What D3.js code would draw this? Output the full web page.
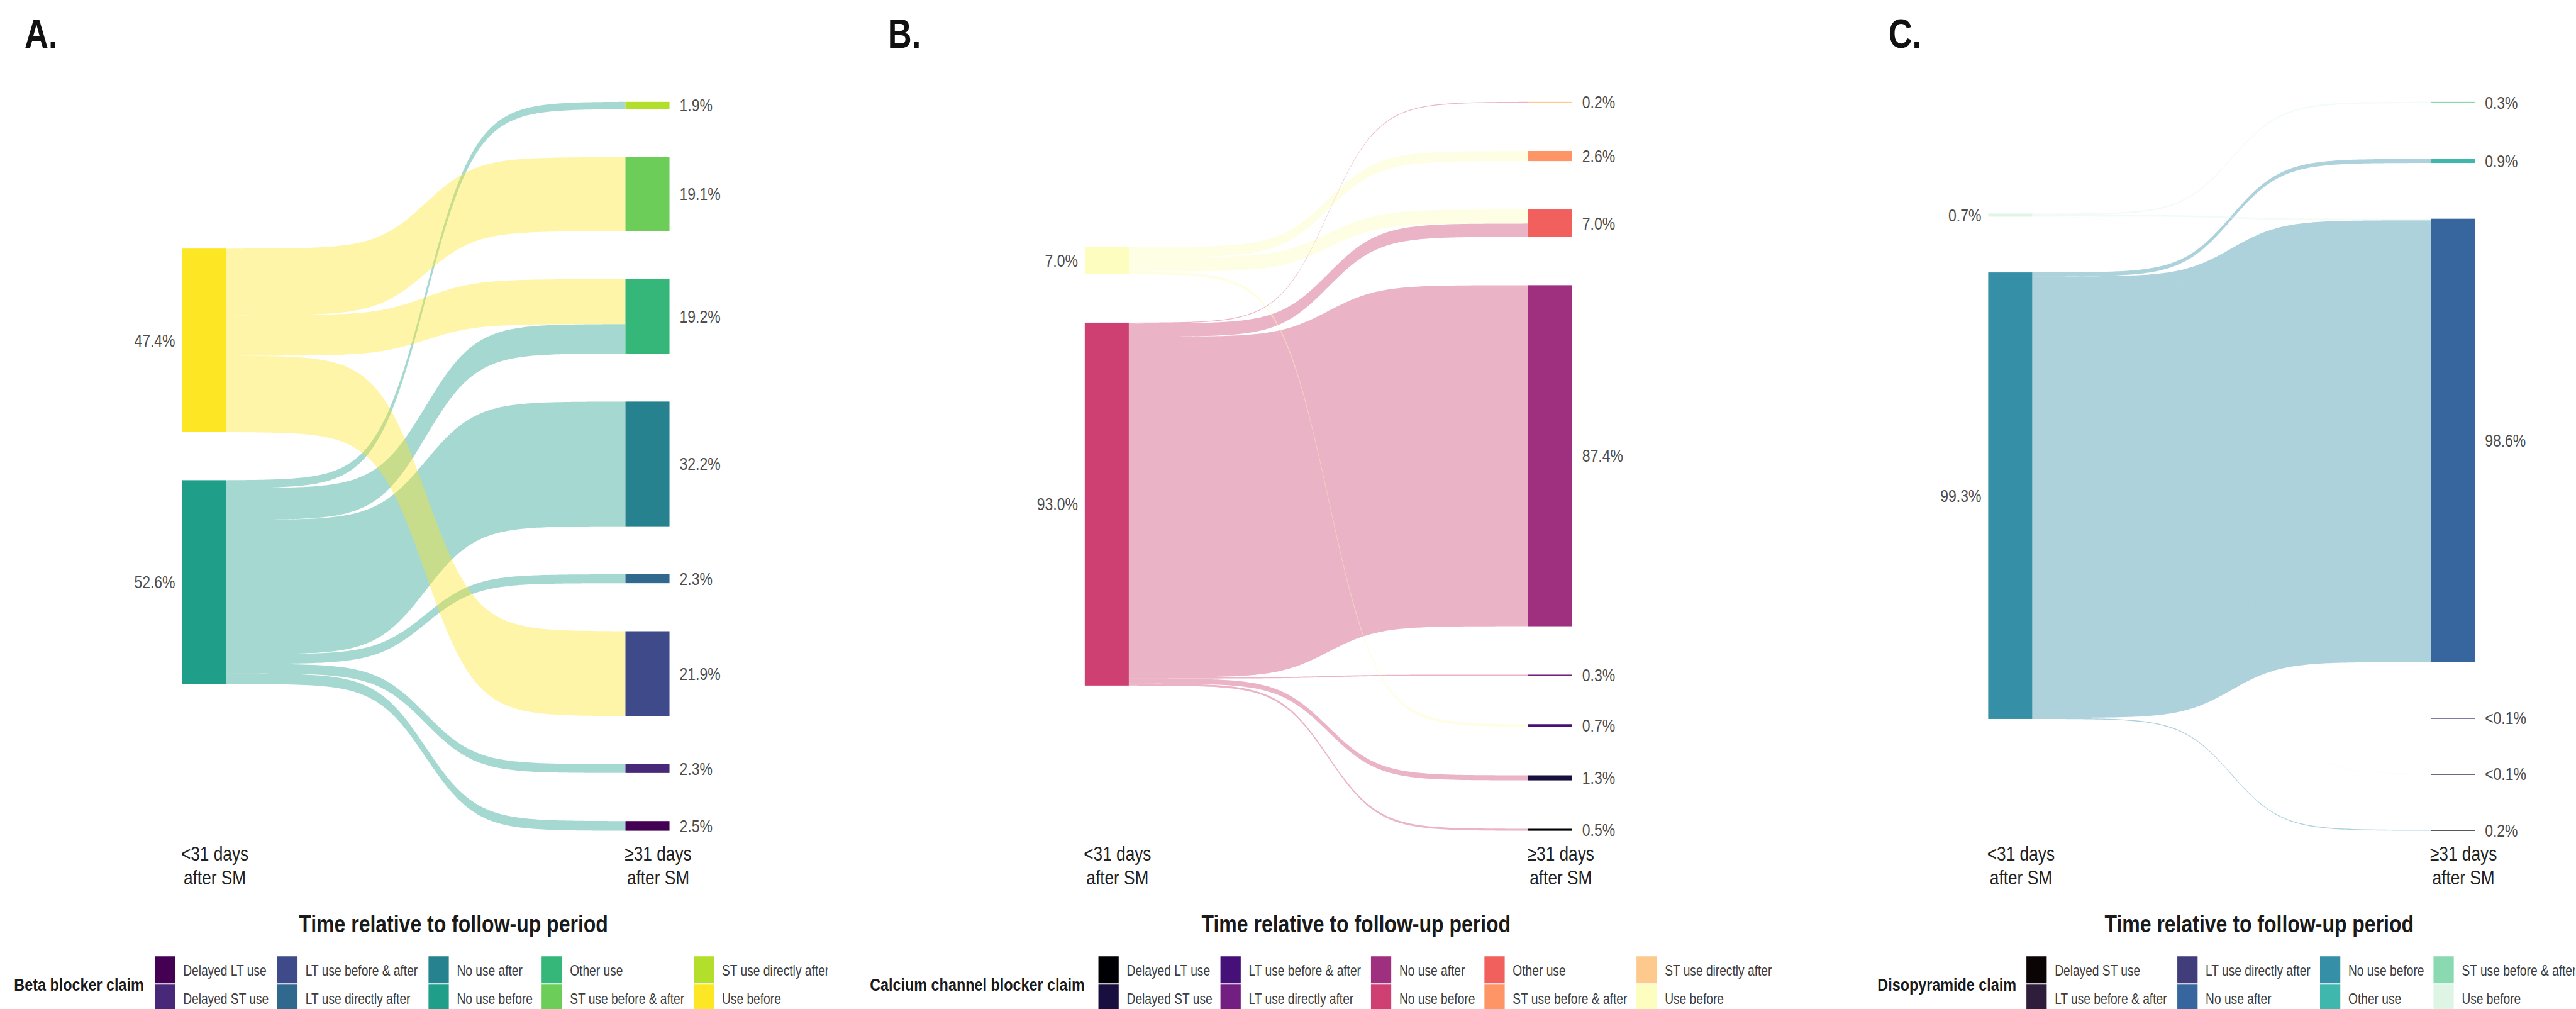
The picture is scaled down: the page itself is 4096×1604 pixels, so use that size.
<!DOCTYPE html>
<html>
<head>
<meta charset="utf-8">
<script src="https://cdn.jsdelivr.net/npm/d3@7"></script>
<style>
  html, body { margin: 0; padding: 0; background: #fff; }
  svg { display: block; }
  text { font-family: "Liberation Sans", Arial, sans-serif; }
</style>
</head>
<body>
<svg id="chart" width="4096" height="1604"></svg>
<script>
// ---- strata -------------------------------------------------------------
const beforeStrata = ["Use before", "No use before"];

const afterStrataAB = [
  "ST use directly after", "ST use before & after", "Other use", "No use after",
  "LT use directly after", "LT use before & after", "Delayed ST use", "Delayed LT use"
];
const afterStrataC = [
  "ST use before & after", "Other use", "No use after",
  "LT use directly after", "LT use before & after", "Delayed ST use"
];

const legendCategoriesAB = [
  "Delayed LT use", "Delayed ST use", "LT use before & after", "LT use directly after",
  "No use after", "No use before", "Other use", "ST use before & after",
  "ST use directly after", "Use before"
];
const legendCategoriesC = [
  "Delayed ST use", "LT use before & after", "LT use directly after", "No use after",
  "No use before", "Other use", "ST use before & after", "Use before"
];

// ---- percentages per stratum (before / after) ----------------------------
const betaBefore = [47.4, 52.6];
const betaAfter  = [1.9, 19.1, 19.2, 32.2, 2.3, 21.9, 2.3, 2.5];

const ccbBefore = [7.0, 93.0];
const ccbAfter  = [0.2, 2.6, 7.0, 87.4, 0.3, 0.7, 1.3, 0.5];

const disoBefore = [0.7, 99.3];
const disoAfter  = [0.3, 0.9, 98.6, 0.05, 0.05, 0.2];

// ---- transitions between strata -----------------------------------------
const betaFlows = [
  { from: "Use before",    to: "ST use before & after", value: 19.1 },
  { from: "Use before",    to: "Other use",             value: 11.6 },
  { from: "Use before",    to: "LT use before & after", value: 21.9 },
  { from: "No use before", to: "ST use directly after", value: 1.9 },
  { from: "No use before", to: "Other use",             value: 7.6 },
  { from: "No use before", to: "No use after",          value: 32.2 },
  { from: "No use before", to: "LT use directly after", value: 2.3 },
  { from: "No use before", to: "Delayed ST use",        value: 2.3 },
  { from: "No use before", to: "Delayed LT use",        value: 2.5 }
];

const ccbFlows = [
  { from: "Use before",    to: "ST use before & after", value: 2.6 },
  { from: "Use before",    to: "Other use",             value: 3.6 },
  { from: "Use before",    to: "LT use before & after", value: 0.7 },
  { from: "No use before", to: "ST use directly after", value: 0.2 },
  { from: "No use before", to: "Other use",             value: 3.4 },
  { from: "No use before", to: "No use after",          value: 87.4 },
  { from: "No use before", to: "LT use directly after", value: 0.3 },
  { from: "No use before", to: "Delayed ST use",        value: 1.3 },
  { from: "No use before", to: "Delayed LT use",        value: 0.5 }
];

const disoFlows = [
  { from: "Use before",    to: "ST use before & after", value: 0.3 },
  { from: "Use before",    to: "No use after",          value: 0.35 },
  { from: "Use before",    to: "LT use before & after", value: 0.05 },
  { from: "No use before", to: "Other use",             value: 0.9 },
  { from: "No use before", to: "No use after",          value: 98.25 },
  { from: "No use before", to: "LT use directly after", value: 0.05 },
  { from: "No use before", to: "Delayed ST use",        value: 0.2 }
];

const axisLabels = [["<31 days", "after SM"], ["\u226531 days", "after SM"]];
const axisTitle = "Time relative to follow-up period";

// ---- palettes -----------------------------------------------------------
const viridis10 = ["#440154","#482878","#3E4A89","#31688E","#26828E","#1F9E89","#35B779","#6DCD59","#B4DE2C","#FDE725"];
const magma10   = ["#000004","#180F3E","#451077","#721F81","#9F2F7F","#CD4071","#F1605D","#FD9567","#FEC98D","#FCFDBF"];
const mako8     = ["#0B0405","#2E1E3C","#413D7B","#37659E","#348FA7","#40B7AD","#8AD9B1","#DEF5E5"];

// ---- layout (design units, scaled by S) ---------------------------------
const S = 0.62;
const NODE_W = 113 * S;
const PLOT_TOP = 261 * S, PLOT_BOTTOM = 2130 * S;
const GAP = 12.4;        // space between strata, in percentage units
const SMOOTH = 8;        // steepness of the flow sigmoid
const FLOW_OPACITY = 0.4;
const NARROW = 0.82;     // horizontal condensing of all text

const panels = [
  { letter: "A.", letterX: 63, leftX: 467, rightX: 1604,
    before: betaBefore, after: betaAfter, afterNames: afterStrataAB, flows: betaFlows,
    categories: legendCategoriesAB, palette: viridis10,
    legendTitle: "Beta blocker claim", legendTitleX: 36,
    keyX: [397, 711, 1099, 1389, 1779], clipRight: 2122 },
  { letter: "B.", letterX: 2277, leftX: 2782, rightX: 3919,
    before: ccbBefore, after: ccbAfter, afterNames: afterStrataAB, flows: ccbFlows,
    categories: legendCategoriesAB, palette: magma10,
    legendTitle: "Calcium channel blocker claim", legendTitleX: 2231,
    keyX: [2817, 3130, 3516, 3807, 4197], clipRight: 4700 },
  { letter: "C.", letterX: 4843, leftX: 5099, rightX: 6234,
    before: disoBefore, after: disoAfter, afterNames: afterStrataC, flows: disoFlows,
    categories: legendCategoriesC, palette: mako8,
    legendTitle: "Disopyramide claim", legendTitleX: 4815,
    keyX: [5197, 5584, 5950, 6241], clipRight: 6604 }
];

const svg = d3.select("#chart");
const defs = svg.append("defs");
const fmtPct = v => v < 0.1 ? "<0.1%" : d3.format(".1f")(v) + "%";

const sigLo = 1 / (1 + Math.exp(SMOOTH)), sigHi = 1 / (1 + Math.exp(-SMOOTH));
const sigmoid = t => (1 / (1 + Math.exp(-SMOOTH * (2 * t - 1))) - sigLo) / (sigHi - sigLo);
const steps = d3.range(0, 1.00001, 1 / 150);
const flowArea = d3.area().x(d => d.x).y0(d => d.y0).y1(d => d.y1);

function stackColumn(names, values) {
  const total = d3.sum(values) + GAP * (values.length - 1);
  let cur = -total / 2;
  return values.map((v, i) => {
    const node = { name: names[i], value: v, y0: cur, y1: cur + v };
    cur += v + GAP;
    return node;
  });
}

panels.forEach((p, pi) => {
  const g = svg.append("g").attr("class", "panel");
  const color = d3.scaleOrdinal().domain(p.categories).range(p.palette);

  const left = stackColumn(beforeStrata, p.before);
  const right = stackColumn(p.afterNames, p.after);
  const extent = Math.max(
    d3.sum(p.before) + GAP * (p.before.length - 1),
    d3.sum(p.after) + GAP * (p.after.length - 1)
  );
  const y = d3.scaleLinear().domain([-extent / 2, extent / 2]).range([PLOT_TOP, PLOT_BOTTOM]);
  const x = d3.scalePoint().domain(["before", "after"]).range([p.leftX * S, p.rightX * S]);
  const xL = x("before"), xR = x("after");

  const links = p.flows.map(f => ({
    ...f,
    s: left.find(n => n.name === f.from),
    t: right.find(n => n.name === f.to)
  }));

  // stack flows inside each node, in the order of the opposite column
  left.forEach(n => {
    const out = links.filter(l => l.s === n).sort((a, b) => right.indexOf(a.t) - right.indexOf(b.t));
    const k = n.value / d3.sum(out, l => l.value);
    let c = n.y0;
    out.forEach(l => { l.sy0 = c; c += l.value * k; l.sy1 = c; });
  });
  right.forEach(n => {
    const inn = links.filter(l => l.t === n).sort((a, b) => left.indexOf(a.s) - left.indexOf(b.s));
    const k = n.value / d3.sum(inn, l => l.value);
    let c = n.y0;
    inn.forEach(l => { l.ty0 = c; c += l.value * k; l.ty1 = c; });
  });

  const xa = xL + NODE_W, xb = xR;
  const drawOrder = links.slice().sort((a, b) => left.indexOf(b.s) - left.indexOf(a.s));

  g.append("g").attr("class", "flows")
    .selectAll("path").data(drawOrder).join("path")
    .attr("d", l => flowArea(steps.map(t => {
      const f = sigmoid(t);
      return {
        x: xa + (xb - xa) * t,
        y0: y(l.sy0 + (l.ty0 - l.sy0) * f),
        y1: y(l.sy1 + (l.ty1 - l.sy1) * f)
      };
    })))
    .attr("fill", l => color(l.from))
    .attr("fill-opacity", FLOW_OPACITY)
    .attr("stroke", "none");

  const nodes = left.map(n => ({ ...n, side: "before" })).concat(right.map(n => ({ ...n, side: "after" })));

  g.append("g").attr("class", "nodes")
    .selectAll("rect").data(nodes).join("rect")
    .attr("x", d => x(d.side))
    .attr("y", d => y(d.y0))
    .attr("width", NODE_W)
    .attr("height", d => Math.max(y(d.y1) - y(d.y0), 1.5))
    .attr("fill", d => color(d.name));

  g.append("g").attr("class", "node-labels")
    .selectAll("text").data(nodes).join("text")
    .attr("x", d => d.side === "before" ? xL - 11 : xR + NODE_W + 16)
    .attr("y", d => (y(d.y0) + y(d.y1)) / 2)
    .attr("dy", "0.35em")
    .attr("text-anchor", d => d.side === "before" ? "end" : "start")
    .attr("font-size", 28)
    .attr("fill", "#4d4d4d")
    .text(d => fmtPct(d.value));

  // panel letter
  g.append("text")
    .attr("x", p.letterX * S).attr("y", 123 * S)
    .attr("font-size", 64).attr("font-weight", "bold").attr("fill", "#111")
    .text(p.letter);

  // axis tick labels
  ["before", "after"].forEach((side, i) => {
    const t = g.append("text")
      .attr("text-anchor", "middle")
      .attr("font-size", 32).attr("fill", "#222");
    axisLabels[i].forEach((line, j) => {
      t.append("tspan")
        .attr("x", x(side) + NODE_W / 2 + 17)
        .attr("y", 2207 * S + j * 60 * S)
        .text(line);
    });
  });

  // axis title
  g.append("text")
    .attr("x", (xL + xR + NODE_W) / 2 + 44)
    .attr("y", 2391 * S)
    .attr("text-anchor", "middle")
    .attr("font-size", 39).attr("font-weight", "bold").attr("fill", "#1a1a1a")
    .text(axisTitle);

  // legend
  const clipId = "legend-clip-" + pi;
  defs.append("clipPath").attr("id", clipId)
    .append("rect").attr("x", 0).attr("y", 1400).attr("width", p.clipRight * S).attr("height", 300);
  const lg = g.append("g").attr("class", "legend").attr("clip-path", `url(#${clipId})`);

  lg.append("text")
    .attr("x", p.legendTitleX * S).attr("y", 2541 * S)
    .attr("font-size", 28.5).attr("font-weight", "bold").attr("fill", "#1a1a1a")
    .text(p.legendTitle);

  const keyTop = [2452 * S, 2452 * S + 45];
  const keyH = 43, keyW = 52 * S;
  const items = lg.selectAll("g.item").data(p.categories).join("g").attr("class", "item")
    .attr("transform", (d, i) => `translate(${p.keyX[Math.floor(i / 2)] * S},${keyTop[i % 2]})`);
  items.append("rect")
    .attr("width", keyW).attr("height", keyH)
    .attr("fill", d => color(d));
  items.append("text")
    .attr("x", 45).attr("y", keyH / 2 + 1).attr("dy", "0.35em")
    .attr("font-size", 23.4).attr("fill", "#3d3d3d")
    .text(d => d);
});

// condense every text run horizontally (narrow typeface look)
svg.selectAll("text").each(function () {
  const spans = this.querySelectorAll("tspan");
  const runs = spans.length ? Array.from(spans) : [this];
  runs.forEach(n => {
    const w = n.getComputedTextLength();
    n.setAttribute("textLength", (w * NARROW).toFixed(2));
    n.setAttribute("lengthAdjust", "spacingAndGlyphs");
  });
});
</script>
</body>
</html>
